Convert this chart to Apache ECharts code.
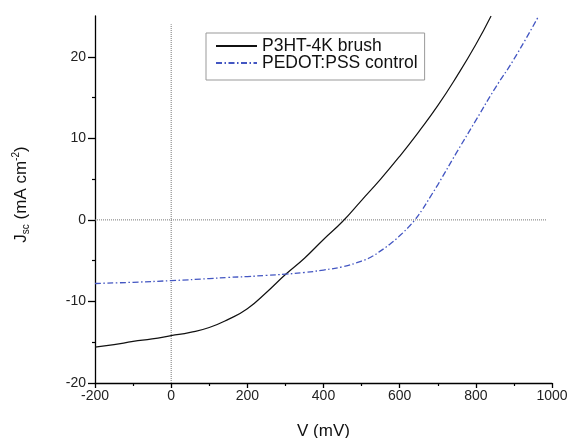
<!DOCTYPE html>
<html>
<head>
<meta charset="utf-8">
<script src="https://cdn.jsdelivr.net/npm/echarts@6/dist/echarts.min.js"></script>
<style>
html,body{margin:0;padding:0;background:#fff;}
#c{width:569px;height:438px;}
</style>
</head>
<body>
<div id="c"></div>
<script>
// Data
var brushV = [-200,-150,-100,-50,0,50,100,150,200,250,300,350,400,450,500,550,600,650,700,750,800,840];
var brushJ = [-15.6,-15.3,-14.9,-14.6,-14.2,-13.8,-13.2,-12.2,-10.9,-8.9,-6.7,-4.7,-2.4,-0.2,2.4,5.0,7.8,10.8,14.0,17.6,21.5,25.0];
var pedotV = [-200,-100,0,100,150,200,250,300,350,400,450,500,525,550,575,600,625,640,660,680,700,750,800,850,900,965];
var pedotJ = [-7.8,-7.65,-7.45,-7.2,-7.05,-6.95,-6.8,-6.65,-6.45,-6.15,-5.75,-5.05,-4.55,-3.8,-2.95,-1.95,-0.8,0.0,1.3,2.8,4.3,8.3,12.2,16.1,19.7,25.0];
var vRefV = [0,0];
var vRefJ = [-20,24];
var hRefV = [-200,985];
var hRefJ = [0,0];
var xTicks = [-200,0,200,400,600,800,1000];
var yMajor = [-20,-10,0,10,20];
var yMinor = [-15,-5,5,15];
var names = ['P3HT-4K brush','PEDOT:PSS control'];

function zip(a,b){return a.map(function(v,i){return [v,b[i]];});}

var chart = echarts.init(document.getElementById('c'));
var font = 'Arial, "Liberation Sans", Helvetica, sans-serif';
var dotted = {color:'#777',width:1,type:[1,1]};
chart.setOption({
  animation:false,
  backgroundColor:'#fff',
  grid:{left:95,right:17,top:16,bottom:55,containLabel:false,outerBoundsMode:'none'},
  legend:{
    show:true,
    left:206, top:33, orient:'vertical',
    data:names,
    borderColor:'#999', borderWidth:1, borderRadius:0,
    padding:[4,7,8,9],
    itemWidth:41, itemHeight:14, itemGap:-1,
    itemStyle:{opacity:0},
    textStyle:{fontFamily:font,fontSize:17.5,lineHeight:14,color:'#111'}
  },
  xAxis:{
    type:'value', min:-200, max:1000, interval:200,
    name:'V (mV)', nameLocation:'middle', nameGap:40,
    nameTextStyle:{fontFamily:font,fontSize:17,color:'#111'},
    axisLine:{show:true,onZero:false,lineStyle:{color:'#000',width:1.3}},
    axisTick:{show:true,inside:false,length:5,lineStyle:{color:'#000',width:1.3}},
    minorTick:{show:true,splitNumber:2,length:3,lineStyle:{color:'#000',width:1.2}},
    axisLabel:{fontFamily:font,fontSize:14,color:'#222',margin:6,formatter:function(v){return String(v);}},
    splitLine:{show:false}
  },
  yAxis:[{
    type:'value', min:-20, max:25,
    name:'{m|J}{sub|sc}{m| (mA cm}{sup|-2}{m|)}',
    nameLocation:'middle', nameRotate:90, nameGap:61,
    nameTextStyle:{
      fontFamily:font,fontSize:17,color:'#111',padding:[0,0,0,10],
      rich:{
        m:{fontFamily:font,fontSize:17,color:'#111',lineHeight:26,verticalAlign:'middle'},
        sub:{fontFamily:font,fontSize:10,color:'#111',lineHeight:26,verticalAlign:'bottom',padding:[0,0,3,0]},
        sup:{fontFamily:font,fontSize:10,color:'#111',lineHeight:26,verticalAlign:'top',padding:[3,0,0,0]}
      }
    },
    axisLine:{show:true,onZero:false,lineStyle:{color:'#000',width:1.3}},
    axisTick:{show:true,inside:false,length:7,customValues:yMajor,lineStyle:{color:'#000',width:1.3}},
    axisLabel:{fontFamily:font,fontSize:14,color:'#222',margin:9,customValues:yMajor},
    splitLine:{show:false}
  },{
    type:'value', min:-20, max:25, position:'left',
    axisLine:{show:false,onZero:false},
    axisTick:{show:true,inside:false,length:3,customValues:yMinor,lineStyle:{color:'#000',width:1.2}},
    axisLabel:{show:false},
    splitLine:{show:false}
  }],
  series:[
    {type:'line',silent:true,data:zip(vRefV,vRefJ),symbol:'none',lineStyle:dotted,z:1},
    {type:'line',silent:true,data:zip(hRefV,hRefJ),symbol:'none',lineStyle:dotted,z:1},
    {name:names[0],type:'line',data:zip(brushV,brushJ),symbol:'none',smooth:0.5,
      itemStyle:{color:'#111'},lineStyle:{color:'#111',width:1.2,type:'solid'},z:3},
    {name:names[1],type:'line',data:zip(pedotV,pedotJ),symbol:'none',smooth:0.5,
      itemStyle:{color:'#4356c2'},lineStyle:{color:'#4356c2',width:1.3,type:[6,2.5,1.5,2.5]},z:3}
  ]
});
</script>
</body>
</html>
